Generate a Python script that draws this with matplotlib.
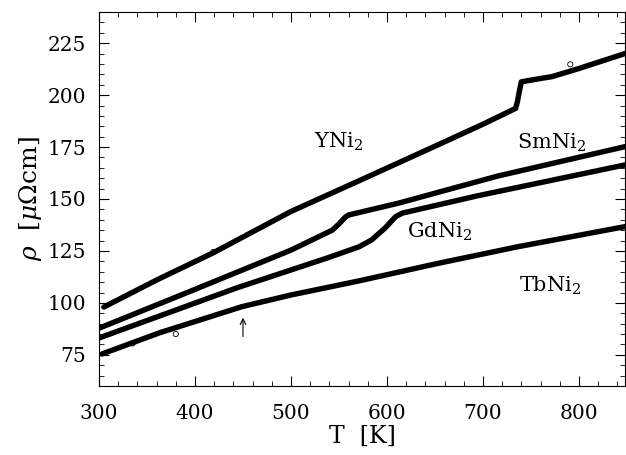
import matplotlib
matplotlib.use("Agg")
from matplotlib import pyplot as plt
from matplotlib.ticker import MultipleLocator

# resistivity curves, T in K, rho in micro-ohm cm
y_T = [305, 360, 419, 500, 571, 650, 700, 734, 736, 738, 740, 760, 772, 800, 848]
y_rho = [98.0, 111, 124.1, 144, 158.8, 175.4, 186, 193.6, 197, 202, 206.4, 208, 208.9, 212.8, 220]

sm_T = [300, 400, 500, 543, 550, 556, 560, 612, 715, 848]
sm_rho = [87.8, 106.5, 125.4, 135, 138, 141, 142.3, 148, 161, 175.2]

gd_T = [300, 444, 537, 571, 584, 598, 609, 616, 694, 848]
gd_rho = [83.1, 107.3, 121.5, 127, 130.3, 136, 141.5, 143.2, 151.5, 166.4]

tb_T = [303, 363, 449, 500, 571, 653, 736, 848]
tb_rho = [75.4, 85.6, 98.2, 103.8, 110.6, 119, 127, 136.7]

# stray open-circle points
out_T = [419, 791, 335, 380]
out_rho = [124.5, 214.8, 80.5, 85]

labels = ["YNi$_2$", "SmNi$_2$", "GdNi$_2$", "TbNi$_2$"]
label_T = [550, 771, 655, 770]
label_rho = [177.5, 177, 134, 108]

plt.rcParams["font.family"] = "DejaVu Serif"
plt.rcParams["mathtext.fontset"] = "dejavuserif"

fig = plt.figure(figsize=(6.26, 4.55), dpi=100)
ax = fig.add_axes([99/626, 69/455, 526/626, 374/455])

for T, rho in [(y_T, y_rho), (sm_T, sm_rho), (gd_T, gd_rho), (tb_T, tb_rho)]:
    ax.plot(T, rho, color="black", lw=3.9, solid_capstyle="round")
ax.scatter(out_T, out_rho, s=14, facecolors="none", edgecolors="black", lw=0.6)

for lab, tx, ty in zip(labels, label_T, label_rho):
    ax.text(tx, ty, lab, fontsize=15, ha="center", va="center")

# arrow marking the anomaly in TbNi2
ax.annotate("", xy=(450, 94.2), xytext=(450, 82.5),
            arrowprops=dict(arrowstyle="->", lw=0.8, color="black"))

ax.set_xlim(300, 848)
ax.set_ylim(60, 240)
ax.xaxis.set_major_locator(MultipleLocator(100))
ax.xaxis.set_minor_locator(MultipleLocator(20))
ax.yaxis.set_major_locator(MultipleLocator(25))
ax.yaxis.set_minor_locator(MultipleLocator(5))
ax.tick_params(which="both", direction="in", top=True, right=True, labelsize=14.5)
ax.tick_params(which="major", length=7)
ax.tick_params(which="minor", length=3.5)
ax.tick_params(axis="x", which="major", pad=13)
ax.tick_params(axis="y", which="major", pad=9)
ax.set_xlabel("T  [K]", fontsize=17, labelpad=1)
ax.set_ylabel(r"$\rho$  [$\mu\Omega$cm]", fontsize=18, labelpad=3)

fig.savefig("out.png", dpi=100)
